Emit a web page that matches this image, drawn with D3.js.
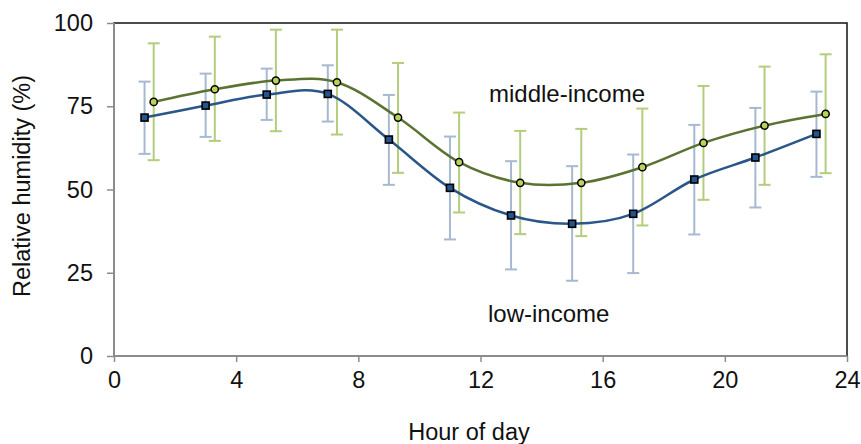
<!DOCTYPE html>
<html>
<head>
<meta charset="utf-8">
<script src="https://cdn.jsdelivr.net/npm/d3@7"></script>
<style>
  body { margin: 0; background: #fff; }
  svg { display: block; font-family: "Liberation Sans", Arial, sans-serif; }
</style>
</head>
<body>
<div id="root"></div>
<script>
// hours for each series (middle-income shifted a bit so error bars don't overlap)
var lowHours = [1, 3, 5, 7, 9, 11, 13, 15, 17, 19, 21, 23];
var midHours = [1.3, 3.3, 5.3, 7.3, 9.3, 11.3, 13.3, 15.3, 17.3, 19.3, 21.3, 23.3];

var lowMean = [71.6, 75.2, 78.5, 78.7, 65.0, 50.5, 42.2, 39.7, 42.7, 53.0, 59.6, 66.7];
var lowTop  = [82.4, 84.8, 86.3, 87.3, 78.4, 65.9, 58.5, 57.0, 60.5, 69.4, 74.5, 79.4];
var lowBot  = [60.7, 65.8, 70.9, 70.4, 51.4, 35.0, 26.0, 22.6, 24.9, 36.5, 44.6, 53.8];

var midMean = [76.3, 80.1, 82.7, 82.2, 71.6, 58.2, 52.0, 52.0, 56.7, 64.0, 69.2, 72.7];
var midTop  = [93.9, 95.9, 98.0, 98.0, 88.0, 73.1, 67.6, 68.2, 74.3, 81.1, 86.9, 90.6];
var midBot  = [58.8, 64.6, 67.5, 66.5, 55.0, 43.1, 36.6, 36.0, 39.2, 46.9, 51.4, 54.9];

var xTicks = [0, 4, 8, 12, 16, 20, 24];
var yTicks = [0, 25, 50, 75, 100];

var w = 861, h = 444;
var margin = {top: 23, right: 14, bottom: 88, left: 114};

var svg = d3.select("#root").append("svg").attr("width", w).attr("height", h);

var x = d3.scaleLinear().domain([0, 24]).range([margin.left, w - margin.right]);
var y = d3.scaleLinear().domain([0, 100]).range([h - margin.bottom, margin.top]);

// plot frame (top/right black)
svg.append("rect")
  .attr("x", x(0)).attr("y", y(100))
  .attr("width", x(24) - x(0)).attr("height", y(0) - y(100))
  .attr("fill", "none").attr("stroke", "#111").attr("stroke-width", 1.5);

// axes
var xAxis = d3.axisBottom(x).tickValues(xTicks).tickSize(6).tickPadding(9);
var yAxis = d3.axisLeft(y).tickValues(yTicks).tickSize(7).tickPadding(14);

var gx = svg.append("g").attr("transform", "translate(0," + y(0) + ")").call(xAxis);
var gy = svg.append("g").attr("transform", "translate(" + x(0) + ",0)").call(yAxis);

[gx, gy].forEach(function(g) {
  g.select(".domain").attr("stroke", "#8c8c8c").attr("stroke-width", 2);
  g.selectAll(".tick line").attr("stroke", "#8c8c8c").attr("stroke-width", 1.5);
  g.selectAll(".tick text").attr("fill", "#111").style("font-size", "23.5px");
});
gy.select(".domain").attr("d", "M0," + y(0) + "V" + y(100));
gx.select(".domain").attr("d", "M0,0H" + (x(24) - x(0))).attr("transform", "translate(" + x(0) + ",0)");

// error bars
function errorBars(hours, top, bot, color) {
  var g = svg.append("g").attr("stroke", color).attr("stroke-width", 2);
  hours.forEach(function(hr, i) {
    var cx = x(hr);
    g.append("line").attr("x1", cx).attr("x2", cx).attr("y1", y(top[i])).attr("y2", y(bot[i]));
    g.append("line").attr("x1", cx - 6).attr("x2", cx + 6).attr("y1", y(top[i])).attr("y2", y(top[i]));
    g.append("line").attr("x1", cx - 6).attr("x2", cx + 6).attr("y1", y(bot[i])).attr("y2", y(bot[i]));
  });
}
errorBars(lowHours, lowTop, lowBot, "#a7b9d1");
errorBars(midHours, midTop, midBot, "#b3cd7c");

// smoothed lines
var line = d3.line()
  .x(function(d) { return x(d[0]); })
  .y(function(d) { return y(d[1]); })
  .curve(d3.curveCatmullRom.alpha(0));

svg.append("path")
  .datum(d3.zip(lowHours, lowMean))
  .attr("d", line).attr("fill", "none").attr("stroke", "#2a5689").attr("stroke-width", 2.5);
svg.append("path")
  .datum(d3.zip(midHours, midMean))
  .attr("d", line).attr("fill", "none").attr("stroke", "#5b7332").attr("stroke-width", 2.5);

// markers
svg.append("g").selectAll("rect").data(d3.zip(lowHours, lowMean)).enter().append("rect")
  .attr("x", function(d) { return x(d[0]) - 3.5; })
  .attr("y", function(d) { return y(d[1]) - 3.5; })
  .attr("width", 7).attr("height", 7)
  .attr("fill", "#23558f").attr("stroke", "#000").attr("stroke-width", 1.6);

svg.append("g").selectAll("circle").data(d3.zip(midHours, midMean)).enter().append("circle")
  .attr("cx", function(d) { return x(d[0]); })
  .attr("cy", function(d) { return y(d[1]); })
  .attr("r", 3.6)
  .attr("fill", "#b8d25a").attr("stroke", "#000").attr("stroke-width", 1.5);

// series labels
svg.append("text").attr("x", 489).attr("y", 102).style("font-size", "24px").attr("fill", "#111").text("middle-income");
svg.append("text").attr("x", 488).attr("y", 322).style("font-size", "24px").attr("fill", "#111").text("low-income");

// axis titles
svg.append("text").attr("x", 469).attr("y", 440).attr("text-anchor", "middle")
  .style("font-size", "23.5px").attr("fill", "#111").text("Hour of day");
svg.append("text").attr("transform", "translate(30,186) rotate(-90)").attr("text-anchor", "middle")
  .style("font-size", "23.5px").attr("fill", "#111").text("Relative humidity (%)");
</script>
</body>
</html>
